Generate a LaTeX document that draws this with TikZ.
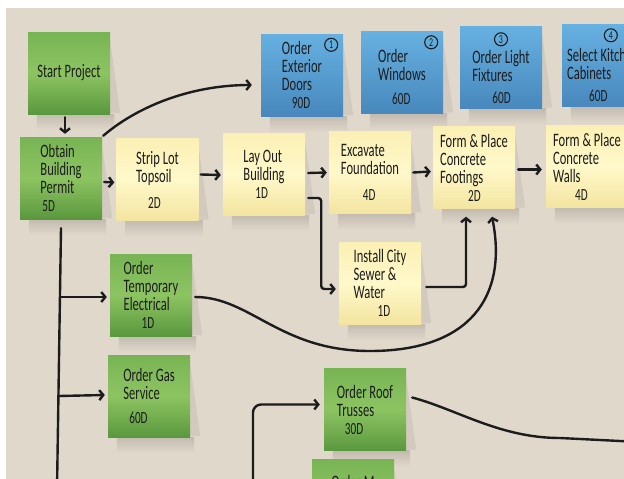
\documentclass[tikz,border=0pt]{standalone}
\usepackage{fontspec}
\setmainfont{Carlito}[FakeStretch=0.66]
\usetikzlibrary{arrows.meta}
\pgfdeclarelayer{back}
\pgfdeclarelayer{shade}
\pgfsetlayers{back,shade,main}
\definecolor{bgc}{HTML}{E0D8CB}
\definecolor{inkc}{HTML}{1C1C1C}
\definecolor{shadowc}{HTML}{C3BBAF}
\definecolor{wedgec}{HTML}{D2CABE}
\definecolor{greentop}{HTML}{78B454}
\definecolor{greenmid}{HTML}{8DC462}
\definecolor{greenbot}{HTML}{5A983E}
\definecolor{bluetop}{HTML}{66B1E1}
\definecolor{bluebot}{HTML}{4888BC}
\definecolor{yellowtop}{HTML}{FBF0B4}
\definecolor{yellowmid}{HTML}{FFF8CA}
\definecolor{yellowbot}{HTML}{F3E5A0}
\newcommand\durtxt[1]{{\fontsize{17}{16}\selectfont #1}}
\newcommand\lowtop[1]{\rule{0pt}{#1}}
\tikzset{
  note/.style={minimum width=82pt, minimum height=82pt, inner sep=0pt,
    align=left, text=inkc, font=\fontsize{19}{18}\selectfont},
  greennote/.style={note, top color=greentop, bottom color=greenbot, middle color=greenmid},
  bluenote/.style={note, top color=bluetop, bottom color=bluebot},
  yellownote/.style={note, top color=yellowtop, bottom color=yellowbot, middle color=yellowmid},
  badge/.style={circle, draw=inkc, line width=1.1pt, minimum size=13pt, inner sep=0pt,
    text=inkc, font=\fontsize{12}{12}\selectfont},
  conn/.style={line width=2.4pt, draw=inkc, line cap=round, line join=round},
  arr/.style={conn, -{Straight Barb[length=4pt,width=10pt]}}
}
\begin{document}
\begin{tikzpicture}[x=1pt, y=-1pt]
\useasboundingbox (0,0) rectangle (624,479);
\begin{pgfonlayer}{back}
\fill[white] (0,0) rectangle (624,479);
\fill[bgc] (6,8) rectangle (624,479);
\end{pgfonlayer}
\clip (0,0) rectangle (624,479);

% task notes
\node[greennote] (start) at (69,73) {Start Project};
\node[greennote] (permit) at (61,178) {Obtain\\Building\\Permit\\\hspace*{2pt}\durtxt{5D}};
\node[yellownote] (strip) at (157.5,179.5) {Strip Lot\\Topsoil\\[8pt]\hspace*{12pt}\durtxt{2D}};
\node[yellownote] (layout) at (264,174) {Lay Out\\Building\\\hspace*{12pt}\durtxt{1D}};
\node[yellownote] (excavate) at (370,172.5) {Excavate\\Foundation\\[8pt]\hspace*{22pt}\durtxt{4D}};
\node[yellownote] (footings) at (474,167.5) {Form \& Place\\Concrete\\Footings\\\hspace*{28pt}\durtxt{2D}};
\node[yellownote] (walls) at (587,166.5) {Form \& Place\\Concrete\\Walls\\\hspace*{22pt}\durtxt{4D}};
\node[yellownote] (sewer) at (380,283) {Install City\\Sewer \&\\Water\\\hspace*{24pt}\durtxt{1D}};
\node[greennote] (electric) at (151,295) {Order\\Temporary\\Electrical\\\hspace*{18pt}\durtxt{1D}};
\node[greennote] (gas) at (149,396) {Order Gas\\Service\\[6pt]\hspace*{6pt}\durtxt{60D}};
\node[greennote] (trusses) at (365,409.5) {Order Roof\\Trusses\\\hspace*{8pt}\durtxt{30D}};
\node[greennote] (masonry) at (353,500) {Order M\\~\\~};

% purchase notes
\node[bluenote] (doors) at (302,75) {Order\\Exterior\\Doors\\\hspace*{10pt}\durtxt{90D}};
\node[bluenote] (windows) at (402,72.5) {\lowtop{22pt}Order\\Windows\\[6pt]\hspace*{14pt}\durtxt{60D}};
\node[bluenote] (lights) at (501,67.5) {\lowtop{32pt}Order Light\\Fixtures\\[4pt]\hspace*{20pt}\durtxt{60D}};
\node[bluenote] (kitchen) at (603,65.5) {\lowtop{32pt}Select Kitchen\\Cabinets\\[4pt]\hspace*{22pt}\durtxt{60D}};
\node[badge] (n1) at ([shift={(-12,11)}]doors.north east) {1};
\node[badge] (n2) at ([shift={(-12,11)}]windows.north east) {2};
\node[badge] (n3) at ([shift={(0,13)}]lights.north) {3};
\node[badge] (n4) at ([shift={(49,11)}]kitchen.north west) {4};

% shadows under the notes
\begin{pgfonlayer}{shade}
\foreach \n in {start,permit,strip,layout,excavate,footings,walls,sewer,electric,gas,trusses,masonry,doors,windows,lights,kitchen}{
  \fill[wedgec] ([shift={(0,9)}]\n.north east) -- ([shift={(10,-1)}]\n.south east) -- ([shift={(0,-1)}]\n.south east) -- cycle;
  \shade[top color=shadowc, bottom color=bgc] ([shift={(9,0)}]\n.south west) rectangle ([shift={(4,16)}]\n.south east);
}
\end{pgfonlayer}

% free ends
\coordinate (trunkend) at (57,490);
\coordinate (tapE) at (60,297);
\coordinate (tapG) at (59,396);
\coordinate (elecdip) at (370,351);
\coordinate (roofin) at (253,490);
\coordinate (trussbend) at (560,438);
\coordinate (roofout) at (640,442);

% connectors
\draw[arr] ([shift={(-4,3)}]start.south) -- ([shift={(4,-3)}]permit.north);
\draw[arr] ([shift={(1,-1)}]permit.north east) .. controls +(35,-30) and +(-60,0) .. ([shift={(-9,10)}]doors.west);
\draw[arr] ([shift={(2,4)}]permit.east) -- ([shift={(-2,3)}]strip.west);
\draw[arr] ([shift={(2,-5)}]strip.east) -- ([shift={(-2,1)}]layout.west);
\draw[arr] ([shift={(3,-1)}]layout.east) -- ([shift={(-2,0)}]excavate.west);
\draw[arr, rounded corners=3pt] ([shift={(3,24)}]layout.east) -- ++(13,0) |- ([shift={(-3,6)}]sewer.west);
\draw[arr] ([shift={(2,0)}]excavate.east) -- ([shift={(-2,4)}]footings.west);
\draw[arr] ([shift={(3,2)}]footings.east) -- ([shift={(-4,3)}]walls.west);
\draw[arr, rounded corners=3pt] ([shift={(5,4)}]sewer.east) -| ([shift={(-8,8)}]footings.south);
\draw[arr] ([shift={(3,2)}]electric.east) .. controls +(55,0) and +(-90,0) .. (elecdip)
  .. controls +(100,0) and +(16,80) .. ([shift={(18,8)}]footings.south);
\draw[conn] ([shift={(0,9)}]permit.south) -- (trunkend);
\draw[arr] (tapE) -- ([shift={(-3,2)}]electric.west);
\draw[arr] (tapG) -- ([shift={(-3,-1)}]gas.west);
\draw[arr, rounded corners=8pt] (roofin) |- ([shift={(-4,-5)}]trusses.west);
\draw[conn] ([shift={(6,-12)}]trusses.east) .. controls +(45,12) and +(-60,0) .. (trussbend) -- (roofout);
\end{tikzpicture}
\end{document}
